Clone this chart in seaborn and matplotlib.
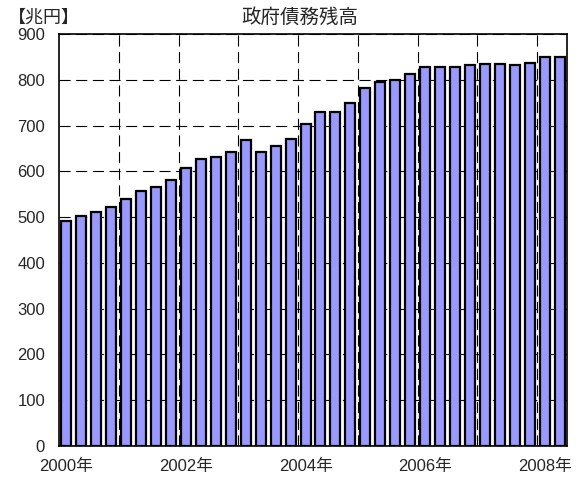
import numpy as np
import pandas as pd
import seaborn as sns
import matplotlib.pyplot as plt

# 政府債務残高（兆円）、四半期ごと 2000年〜2008年
quarters = [f"{y}Q{q}" for y in range(2000, 2009) for q in range(1, 5)][:34]
debt = [492, 502, 511, 522, 539, 557, 565, 582, 607, 627,
        632, 643, 668, 643, 656, 670, 703, 729, 730, 750,
        782, 795, 799, 812, 827, 827, 827, 832, 834, 835,
        833, 837, 850, 849]
year_labels = ["2000年", "2002年", "2004年", "2006年", "2008年"]
y_ticks = list(range(0, 901, 100))

df = pd.DataFrame({"quarter": quarters, "debt": debt})

sns.set_style("white")
plt.rcParams["font.family"] = ["Liberation Sans", "Noto Sans CJK JP", "DejaVu Sans"]

fig = plt.figure(figsize=(5.87, 4.78), dpi=100)
ax = fig.add_axes([59 / 587, 1 - 446 / 478, 508 / 587, 412 / 478])

sns.barplot(data=df, x="quarter", y="debt", color="#9999FF",
            saturation=1, edgecolor="black", linewidth=1.6,
            width=0.667, ax=ax)

ax.set_xlim(-0.5, len(quarters) - 0.5)
ax.set_ylim(0, 900)
ax.set_yticks(y_ticks)
ax.set_yticklabels([str(v) for v in y_ticks], fontsize=12)

# 年ラベルは8四半期ごと、縦の補助線は4四半期ごと
ax.set_xticks(range(0, len(quarters), 8))
ax.set_xticklabels(year_labels, fontsize=12)
ax.set_xticks(np.arange(3.5, len(quarters) - 1, 4), minor=True)

dash = (0, (10, 5))
ax.grid(axis="y", which="major", color="black", linestyle=dash, linewidth=0.8)
ax.grid(axis="x", which="minor", color="black", linestyle=dash, linewidth=0.8)
ax.grid(axis="x", which="major", visible=False)
ax.set_axisbelow(True)

ax.tick_params(which="both", length=0)
ax.tick_params(axis="y", pad=10)
ax.tick_params(axis="x", pad=9)
ax.set_xlabel("")
ax.set_ylabel("")

for s in ax.spines.values():
    s.set_visible(True)
    s.set_color("black")
    s.set_linewidth(1.2)

fig.text(0.511, 0.963, "政府債務残高", ha="center", va="center", fontsize=14)
fig.text(8 / 587, 0.962, "【兆円】", ha="left", va="center", fontsize=13)

fig.savefig("out.png", dpi=100)
